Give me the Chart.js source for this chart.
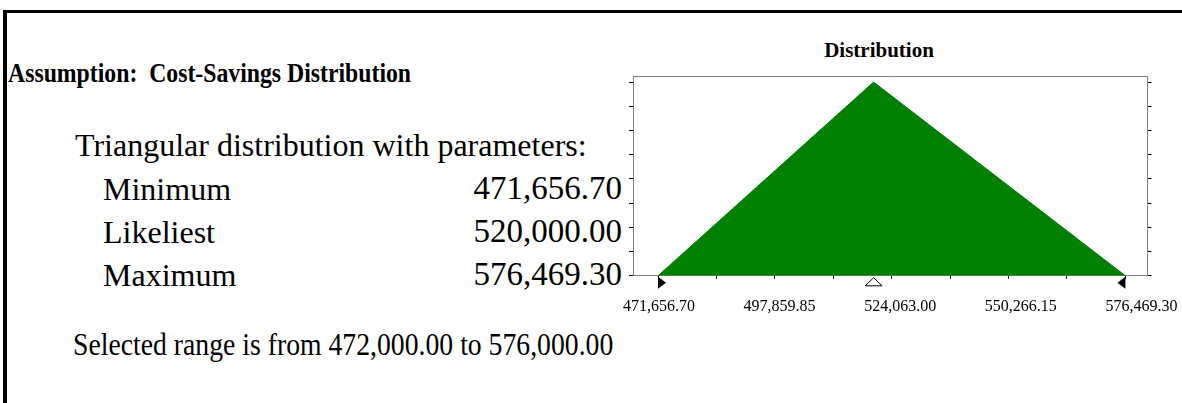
<!DOCTYPE html>
<html>
<head>
<meta charset="utf-8">
<script src="https://cdn.jsdelivr.net/npm/chart.js@4.4.1/dist/chart.umd.min.js"></script>
<style>
  body { margin: 0; width: 1182px; height: 403px; overflow: hidden; background: #fff; font-family: "Liberation Serif", "Times New Roman", serif; color: #000; }
  .frame { position: absolute; left: 3px; top: 10px; width: 1300px; height: 500px; border-left: 4px solid #000; border-top: 3px solid #000; }
  .txt { position: absolute; line-height: 1; white-space: pre; transform-origin: 0 0; }
  .head { left: 8px; top: 59px; font-size: 28px; font-weight: bold; transform: scaleX(0.848); }
  .big { font-size: 32px; }
  .val { text-align: right; width: 200px; font-size: 33px; }
  .title { left: 779px; width: 200px; top: 40px; text-align: center; font-size: 21px; font-weight: bold; }
  #chartBox { position: absolute; left: 590px; top: 60px; width: 606px; height: 276px; }
</style>
</head>
<body>
<div class="frame"></div>
<div class="txt head">Assumption:  Cost-Savings Distribution</div>
<div class="txt big" style="left:75px; top:129px;">Triangular distribution with parameters:</div>
<div class="txt big" style="left:103px; top:173px;">Minimum</div>
<div class="txt val" style="left:422px; top:172px;">471,656.70</div>
<div class="txt big" style="left:103px; top:216px;">Likeliest</div>
<div class="txt val" style="left:422px; top:215px;">520,000.00</div>
<div class="txt big" style="left:103px; top:259px;">Maximum</div>
<div class="txt val" style="left:422px; top:258px;">576,469.30</div>
<div class="txt" style="left:73px; top:329px; font-size:31px; transform: scaleX(0.894);">Selected range is from 472,000.00 to 576,000.00</div>
<div class="txt title">Distribution</div>
<div id="chartBox"><canvas id="chart"></canvas></div>

<script>
// valores
const triX = [471656.70, 520000.00, 576469.30];   // minimo, mas probable, maximo
const triY = [0, 8, 0];
const xLabelValues = [471656.70, 497859.85, 524063.00, 550266.15, 576469.30];
const xMinorTicks = [471656.70, 484758.28, 497859.85, 510961.43, 524063.00, 537164.58, 550266.15, 563367.73, 576469.30];
const yTicks = [0, 1, 2, 3, 4, 5, 6, 7, 8];
const markerMin = 471656.70;
const markerLikely = 520000.00;
const markerMax = 576469.30;

const fmt = (v) => v.toLocaleString('en-US', { minimumFractionDigits: 2, maximumFractionDigits: 2 });

// marco superior y marcadores bajo el eje
const extras = {
    id: 'extras',
    afterDraw(chart) {
        const ctx = chart.ctx;
        const area = chart.chartArea;
        const xs = chart.scales.x;
        const yb = area.bottom + 1;
        ctx.save();
        ctx.strokeStyle = '#808080';
        ctx.lineWidth = 1;
        ctx.beginPath();
        ctx.moveTo(area.left, area.top + 0.5);
        ctx.lineTo(area.right, area.top + 0.5);
        ctx.stroke();

        ctx.fillStyle = '#000';
        let px = xs.getPixelForValue(markerMin);
        ctx.beginPath();
        ctx.moveTo(px, yb);
        ctx.lineTo(px + 8, yb + 6);
        ctx.lineTo(px, yb + 12);
        ctx.closePath();
        ctx.fill();

        px = xs.getPixelForValue(markerMax);
        ctx.beginPath();
        ctx.moveTo(px, yb);
        ctx.lineTo(px - 8, yb + 6);
        ctx.lineTo(px, yb + 12);
        ctx.closePath();
        ctx.fill();

        px = xs.getPixelForValue(markerLikely);
        ctx.strokeStyle = '#000';
        ctx.fillStyle = '#fff';
        ctx.beginPath();
        ctx.moveTo(px, yb + 1);
        ctx.lineTo(px + 8.5, yb + 9);
        ctx.lineTo(px - 8.5, yb + 9);
        ctx.closePath();
        ctx.fill();
        ctx.stroke();
        ctx.restore();
    }
};

const chart = new Chart(document.getElementById('chart').getContext('2d'), {
    type: 'scatter',
    data: {
        datasets: [{
            data: triX.map((x, i) => ({ x: x, y: triY[i] })),
            showLine: true,
            fill: 'origin',
            backgroundColor: '#008000',
            borderColor: '#008000',
            borderWidth: 1,
            pointRadius: 0,
            tension: 0
        }]
    },
    options: {
        responsive: true,
        maintainAspectRatio: false,
        animation: false,
        events: [],
        layout: { padding: { left: 39, right: 32, top: 16, bottom: 2 } },
        plugins: { legend: { display: false }, tooltip: { enabled: false }, title: { display: false } },
        scales: {
            x: {
                type: 'linear',
                position: 'bottom',
                weight: 0,
                min: 466045,
                max: 581407,
                afterBuildTicks: (axis) => { axis.ticks = xMinorTicks.map(v => ({ value: v })); },
                grid: { display: true, drawOnChartArea: false, drawTicks: true, tickLength: 3, color: '#000' },
                border: { display: true, color: '#808080' },
                ticks: { display: false }
            },
            x2: {
                type: 'linear',
                position: 'bottom',
                weight: 1,
                min: 466003,
                max: 577774,
                afterBuildTicks: (axis) => { axis.ticks = xLabelValues.map(v => ({ value: v })); },
                grid: { display: false, drawTicks: false },
                border: { display: false },
                ticks: {
                    autoSkip: false,
                    maxRotation: 0,
                    padding: 18,
                    color: '#000',
                    font: { family: 'Liberation Serif', size: 16 },
                    callback: (v) => fmt(v)
                }
            },
            y: {
                position: 'left',
                min: 0,
                max: 8.25,
                afterBuildTicks: (axis) => { axis.ticks = yTicks.map(v => ({ value: v })); },
                grid: { display: true, drawOnChartArea: false, drawTicks: true, tickLength: 4, color: '#000' },
                border: { display: true, color: '#808080' },
                ticks: { display: false }
            },
            y2: {
                position: 'right',
                min: 0,
                max: 8.25,
                afterBuildTicks: (axis) => { axis.ticks = yTicks.map(v => ({ value: v })); },
                grid: { display: true, drawOnChartArea: false, drawTicks: true, tickLength: 4, color: '#000' },
                border: { display: true, color: '#808080' },
                ticks: { display: false }
            }
        }
    },
    plugins: [extras]
});
</script>
</body>
</html>
